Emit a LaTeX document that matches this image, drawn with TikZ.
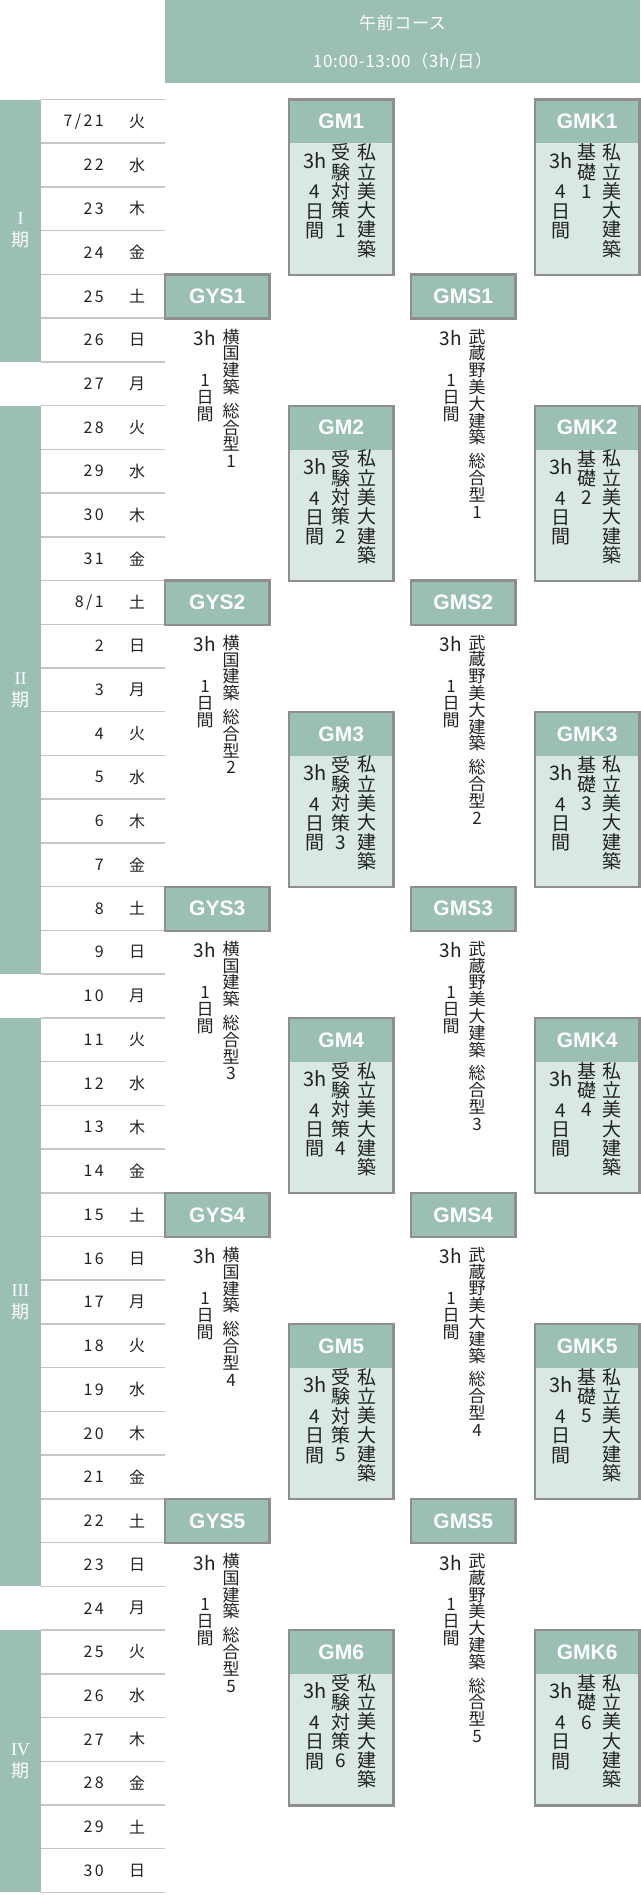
\documentclass[tikz,border=0pt]{standalone}
\usepackage{fontspec}
\setmainfont{Noto Sans CJK JP}
\newfontfamily\datefont[LetterSpace=15]{Noto Sans CJK JP}
\newfontfamily\hdfont[LetterSpace=4]{Noto Sans CJK JP}
\newfontfamily\codefont{Liberation Sans}
\newfontfamily\romfont{Liberation Serif}
\definecolor{gr}{HTML}{9BBFB1}
\definecolor{lt}{HTML}{D9E8E2}
\definecolor{bd}{HTML}{8E8E8E}
\definecolor{rl}{HTML}{C6C6C6}
\definecolor{tx}{HTML}{222222}
\newcommand\wdayname[1]{\ifcase#1 火\or 水\or 木\or 金\or 土\or 日\or 月\fi}
\begin{document}
\begin{tikzpicture}[x=1pt,y=-1pt,
  hdtext/.style={text=white,font=\hdfont\fontsize{17}{17}\selectfont,inner sep=0},
  rule/.style={rl,line width=1.5pt},
  datetxt/.style={text=tx,font=\datefont\fontsize{16}{16}\selectfont,inner sep=0,anchor=east},
  daytxt/.style={text=tx,font=\fontsize{16}{16}\selectfont,inner sep=0},
  pertxt/.style={text=white,align=center,font=\fontsize{18}{22}\selectfont,inner sep=0},
  headbox/.style={fill=gr,inner sep=0,anchor=north west,minimum width=104pt,minimum height=43.73pt,text=white,font=\codefont\bfseries\fontsize{21}{21}\selectfont},
  bodybox/.style={fill=lt,inner sep=0,anchor=north west,minimum width=104pt,minimum height=131.2pt},
  frame/.style={bd,line width=2.2pt},
  vtA/.style={text=tx,align=center,inner sep=0,anchor=north,font=\fontsize{19}{19.3}\selectfont},
  vtB/.style={text=tx,align=center,inner sep=0,anchor=north,font=\fontsize{17}{16.8}\selectfont},
  hA/.style={text=tx,inner sep=0,font=\fontsize{20}{20}\selectfont},
  hB/.style={text=tx,inner sep=0,font=\fontsize{19}{19}\selectfont}]
\useasboundingbox (0,0) rectangle (640,1895);
% header
\node[fill=gr,minimum width=475pt,minimum height=83pt,anchor=north west,inner sep=0] (hdr) at (165,0) {};
\node[hdtext] (hd1) at (402.5,23) {午前コース};
\node[hdtext] (hd2) at (402.5,62) {10:00-13:00（3h/日）};
% period bars
\foreach \a/\b/\lab [count=\p] in {0/6/I,7/20/II,21/34/III,35/41/IV}{
  \pgfmathsetmacro\ya{99.5+\a*43.73}
  \pgfmathsetmacro\yb{99.5+\b*43.73}
  \fill[gr] (0,\ya) rectangle (41,\yb);
  \node[pertxt] (per\p) at (20.5,{(\ya+\yb)/2}) {{\romfont\lab}\\期};
}
% rows
\foreach \d [count=\i from 0] in {7/21,22,23,24,25,26,27,28,29,30,31,8/1,2,3,4,5,6,7,8,9,10,11,12,13,14,15,16,17,18,19,20,21,22,23,24,25,26,27,28,29,30}{
  \pgfmathsetmacro\yt{99.5+\i*43.73}
  \pgfmathtruncatemacro\w{mod(\i,7)}
  \draw[rule] (41,\yt) -- (165,\yt);
  \node[datetxt] (d\i) at (104,{\yt+21.9}) {\d};
  \node[daytxt] (w\i) at (137,{\yt+21.9}) {\wdayname{\w}};
}
\draw[rule] (41,1892.4) -- (165,1892.4);
% 4-day courses
\foreach \k/\r in {1/0,2/7,3/14,4/21,5/28,6/35}{
  \pgfmathsetmacro\t{99.5+\r*43.73}
  \pgfmathsetmacro\b{\t+43.73}
  % GM
  \node[bodybox] (gmb\k) at (289,\b) {};
  \node[headbox] (gm\k) at (289,\t) {GM\k};
  \draw[frame] (gm\k.north west) rectangle (gmb\k.south east);
  \node[vtA] (gma\k) at (366.5,{\b+0.5}) {私\\立\\美\\大\\建\\築};
  \node[vtA] (gmc\k) at (341,{\b+0.5}) {受\\験\\対\\策\\\k};
  \node[hA] (gmh\k) at (315,{\b+17}) {3h};
  \node[vtA] (gmd\k) at (315,{\b+42}) {4\\日\\間};
  % GMK
  \node[bodybox] (gkb\k) at (535,\b) {};
  \node[headbox] (gk\k) at (535,\t) {GMK\k};
  \draw[frame] (gk\k.north west) rectangle (gkb\k.south east);
  \node[vtA] (gka\k) at (612,{\b+0.5}) {私\\立\\美\\大\\建\\築};
  \node[vtA] (gkc\k) at (587,{\b+0.5}) {基\\礎\\\k};
  \node[hA] (gkh\k) at (561,{\b+17}) {3h};
  \node[vtA] (gkd\k) at (561,{\b+42}) {4\\日\\間};
}
% 1-day courses
\foreach \k/\r in {1/4,2/11,3/18,4/25,5/32}{
  \pgfmathsetmacro\t{99.5+\r*43.73}
  \pgfmathsetmacro\b{\t+43.73}
  % GYS
  \node[headbox] (gy\k) at (165,\t) {GYS\k};
  \draw[frame] (gy\k.north west) rectangle (gy\k.south east);
  \node[hB] (gyh\k) at (205,{\b+20}) {3h};
  \node[vtB] (gyd\k) at (205,{\b+56}) {1\\日\\間};
  \node[vtB] (gya\k) at (231,{\b+10.5}) {横\\国\\建\\築\\[7pt]総\\合\\型\\\k};
  % GMS
  \node[headbox] (gs\k) at (411,\t) {GMS\k};
  \draw[frame] (gs\k.north west) rectangle (gs\k.south east);
  \node[hB] (gsh\k) at (451,{\b+20}) {3h};
  \node[vtB] (gsd\k) at (451,{\b+56}) {1\\日\\間};
  \node[vtB] (gsa\k) at (477,{\b+10.5}) {武\\蔵\\野\\美\\大\\建\\築\\[7pt]総\\合\\型\\\k};
}
\end{tikzpicture}
\end{document}
